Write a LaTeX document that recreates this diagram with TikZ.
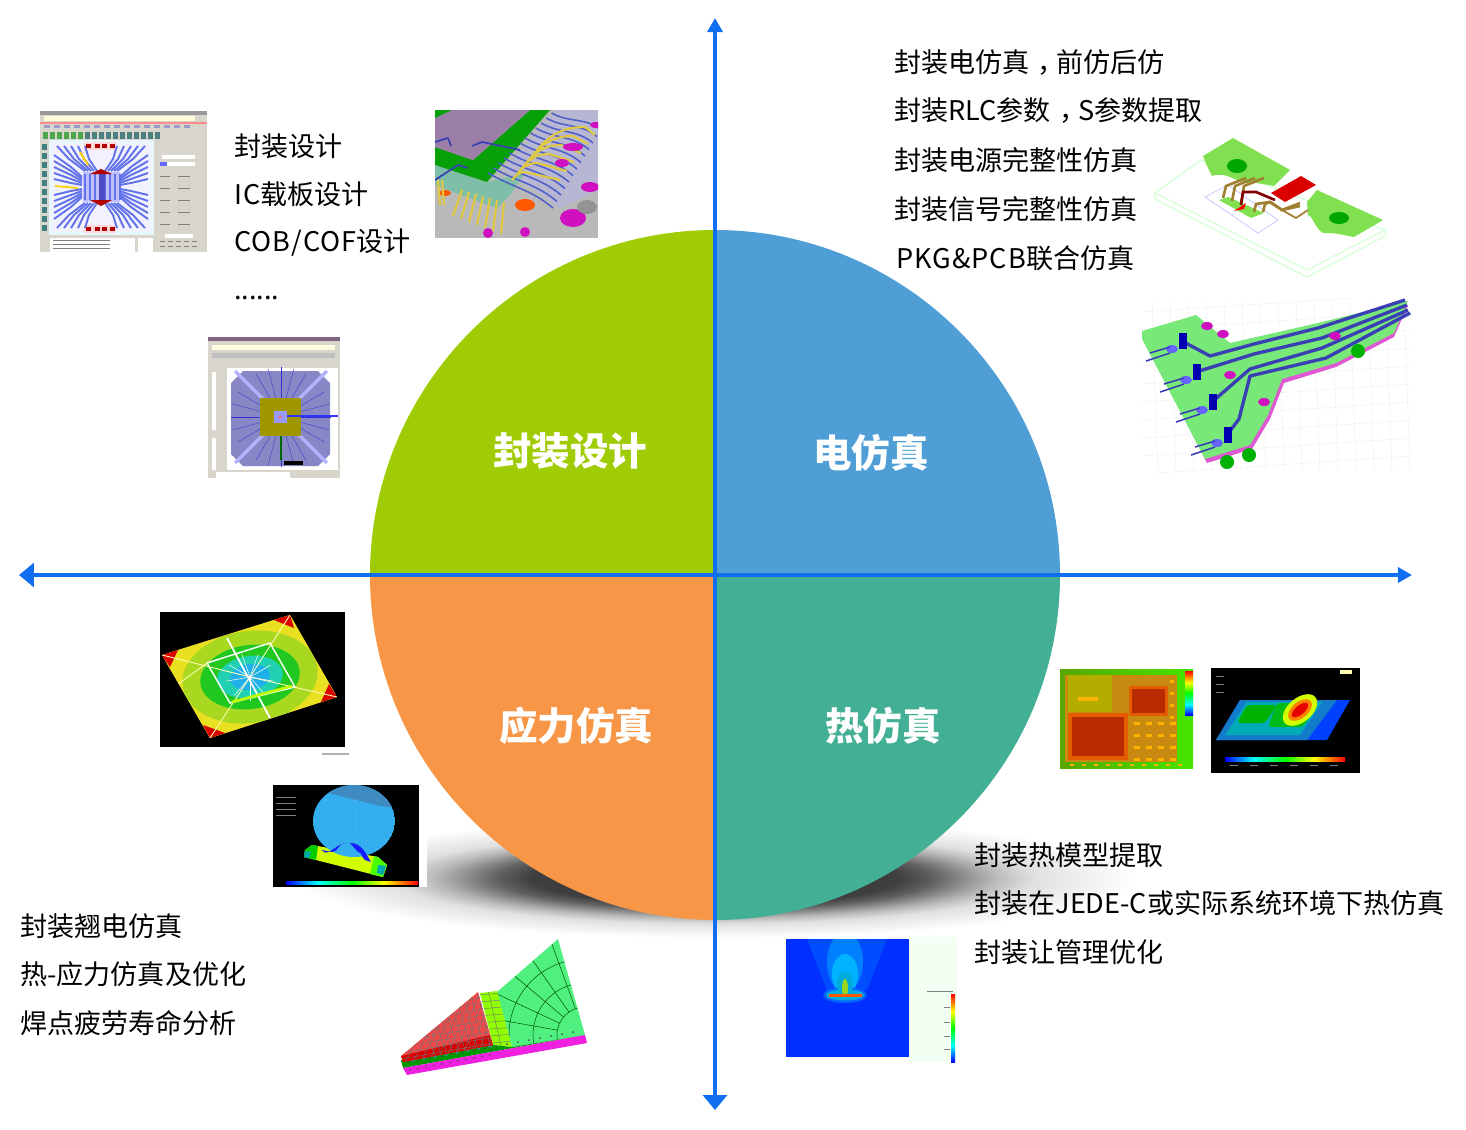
\documentclass[tikz,border=0pt]{standalone}
\usepackage{fontspec}
\setmainfont{Noto Sans CJK SC}
\newfontfamily\widelatin{Noto Sans CJK SC}[LetterSpace=4]
\usetikzlibrary{arrows.meta}

\definecolor{designgreen}{HTML}{A0CC05}
\definecolor{elecblue}{HTML}{4F9FD6}
\definecolor{stressorange}{HTML}{F79646}
\definecolor{heatteal}{HTML}{43AF94}
\definecolor{axisblue}{HTML}{0F6FF0}
\definecolor{wingray}{HTML}{D8D5CC}
\definecolor{tracelilac}{HTML}{6272E8}
\definecolor{wireblue}{HTML}{3A40B4}
\definecolor{padpink}{HTML}{D010C0}
\definecolor{platelime}{HTML}{80E050}
\definecolor{boardgreen}{HTML}{78E878}
\definecolor{wirebrown}{HTML}{A08030}
\definecolor{meshgreen}{HTML}{50F080}
\definecolor{meshred}{HTML}{F04848}
\definecolor{meshpink}{HTML}{F020E0}
\definecolor{bondpurple}{HTML}{9B7FA8}
\definecolor{bondgreen}{HTML}{08A008}
\definecolor{bondteal}{HTML}{7FBFA8}
\definecolor{bondwire}{HTML}{5060C8}
\definecolor{bondyellow}{HTML}{E0C840}
\definecolor{ballblue}{HTML}{33AFEF}
\definecolor{hotred}{HTML}{B82A00}
\definecolor{hotorange}{HTML}{C88A10}
\definecolor{plumeblue}{HTML}{0030FF}
\definecolor{ringorange}{HTML}{D89030}
\definecolor{ringyellow}{HTML}{E8E020}
\definecolor{ringlime}{HTML}{A8D820}
\definecolor{ringgreen}{HTML}{20C820}
\definecolor{ringteal}{HTML}{20D0B0}
\definecolor{ringcyan}{HTML}{20B0E8}

\pgfdeclarehorizontalshading{rainbowh}{100bp}{color(0bp)=(blue); color(25bp)=(blue); color(37bp)=(cyan); color(50bp)=(green); color(62bp)=(yellow); color(75bp)=(red); color(100bp)=(red)}
\pgfdeclareverticalshading{rainbowv}{100bp}{color(0bp)=(blue); color(25bp)=(blue); color(37bp)=(cyan); color(50bp)=(green); color(62bp)=(yellow); color(75bp)=(red); color(100bp)=(red)}
\pgfdeclareradialshading{bowlshadow}{\pgfpointorigin}{gray(0bp)=(0.15); gray(11bp)=(0.25); gray(13bp)=(0.38); gray(16bp)=(0.67); gray(17bp)=(0.75); gray(19bp)=(0.88); gray(23bp)=(0.96); gray(25bp)=(1); gray(50bp)=(1)}

\tikzset{
  bigtip/.tip={Triangle[width=13.5pt,length=8.5pt]},
  smalltip/.tip={Triangle[width=8.5pt,length=8pt]},
  axisline/.style={axisblue, line width=2.3pt},
  itemtext/.style={anchor=west, inner sep=0pt, font=\fontsize{15.4pt}{18pt}\selectfont},
  quadtitle/.style={white, inner sep=0pt, font=\fontsize{21.9pt}{26pt}\selectfont\bfseries},
  trace/.style={tracelilac, line width=1.1pt, line join=round},
  wire/.style={wireblue, line width=1.9pt, line join=round},
  bondline/.style={bondwire, line width=0.9pt},
  bondlead/.style={bondyellow, line width=1.2pt},
  meshline/.style={black!55, line width=0.25pt},
  gaugeline/.style={gray, line width=0.3pt},
}

\begin{document}
\begin{tikzpicture}[x=0.02cm,y=-0.02cm]
    \useasboundingbox (0,0) rectangle (1466,1129);
    \coordinate (c) at (715,575);
    \coordinate (top) at (715,18);
    \coordinate (bottom) at (715,1110);
    \coordinate (left) at (19,575);
    \coordinate (right) at (1412,575);

    % shadow under the disc
    \shade[shading=bowlshadow] (715,878) ellipse (420 and 60);

    % the four quadrants
    \fill[designgreen] (c) -- (370,575) arc (180:270:345) -- cycle;
    \fill[elecblue] (c) -- (715,230) arc (270:360:345) -- cycle;
    \fill[heatteal] (c) -- (1060,575) arc (0:90:345) -- cycle;
    \fill[stressorange] (c) -- (715,920) arc (90:180:345) -- cycle;

    \draw[axisline, bigtip-smalltip] (left) -- (right);
    \draw[axisline, smalltip-bigtip] (top) -- (bottom);

    \node[quadtitle] (qdesign) at (570,451) {封装设计};
    \node[quadtitle] (qelec) at (871,453) {电仿真};
    \node[quadtitle] (qstress) at (576,726) {应力仿真};
    \node[quadtitle] (qheat) at (883,726) {热仿真};

    \node[itemtext] (d1) at (234,146) {封装设计};
    \node[itemtext] (d2) at (234,194) {{\widelatin IC}载板设计};
    \node[itemtext] (d3) at (234,243) {{\widelatin COB/COF}设计};
    \node[itemtext] (d4) at (234,298) {......};

    \node[itemtext] (e1) at (894,63) {封装电仿真\hspace*{.3em}，\hspace*{-.3em}前仿后仿};
    \node[itemtext] (e2) at (894,111) {封装RLC参数\hspace*{.3em}，\hspace*{-.3em}S参数提取};
    \node[itemtext] (e3) at (894,160) {封装电源完整性仿真};
    \node[itemtext] (e4) at (894,209) {封装信号完整性仿真};
    \node[itemtext] (e5) at (896,258) {{\widelatin PKG\&PCB}联合仿真};

    \node[itemtext] (s1) at (20,926) {封装翘电仿真};
    \node[itemtext] (s2) at (20,974) {热-应力仿真及优化};
    \node[itemtext] (s3) at (20,1023) {焊点疲劳寿命分析};

    \node[itemtext] (h1) at (974,855) {封装热模型提取};
    \node[itemtext] (h2) at (974,903) {封装在JEDE-C或实际系统环境下热仿真};
    \node[itemtext] (h3) at (974,952) {封装让管理优化};

    % layout window, upper left
    \begin{scope}
      \clip (40,111) rectangle (207,252);
      \fill[wingray] (40,111) rectangle (207,252);
      \fill[gray!80] (40,111) rectangle (207,115);
      \fill[yellow!15] (44,116) rectangle (195,121);
      \fill[red!45] (40,122) rectangle (207,124);
      \foreach \i in {0,...,14} \fill[blue!30!gray!60] (44+\i*10,125) rectangle +(6,3);
      \foreach \i in {0,...,5} \fill[green!50!black!70] (43+\i*7,132) rectangle +(5,7);
      \foreach \i in {6,...,16} \fill[gray!60!teal] (43+\i*7,132) rectangle +(5,7);
      \foreach \i in {0,...,9} \fill[teal!50!gray] (42,144+\i*9) rectangle +(5,6);
      \fill[cyan!10] (49,140) rectangle (154,235);
      \fill[blue!5] (52,143) rectangle (151,232);
      \fill[red!15] (84,142) rectangle (116,150);
      \fill[red!15] (84,225) rectangle (116,233);
      \begin{scope}
        \clip (52,143) rectangle (151,232);
        \foreach \sx in {-1,1} \foreach \sy in {-1,1} \foreach \i in {0,...,4} {
          \draw[trace] ({101+\sx*(4+\i*3)},{187+\sy*16}) -- ({101+\sx*(12+\i*5)},{187+\sy*28}) -- ({101+\sx*(16+\i*7)},{187+\sy*41});
          \draw[trace] ({101+\sx*19},{187+\sy*(2+\i*2)}) -- ({101+\sx*30},{187+\sy*(4+\i*4)}) -- ({101+\sx*47},{187+\sy*(8+\i*6)});
        }
      \end{scope}
      \fill[blue!25] (83,172) rectangle (120,202);
      \foreach \i in {0,...,7} \draw[trace, line width=.6pt] (85+\i*5,174) -- +(0,26);
      \fill[blue!70!black!70] (99,173) rectangle (105,201);
      \fill[red!70!black] (90,174) -- (101,169) -- (112,174) -- cycle;
      \fill[red!70!black] (90,200) -- (101,206) -- (112,200) -- cycle;
      \foreach \i in {88,97,104,112} {
        \fill[red!70!black] (\i-2,144) rectangle +(5,4);
        \fill[red!70!black] (\i-2,227) rectangle +(5,4);
      }
      \draw[yellow!70!orange, line width=1.2pt] (80,152) -- (88,165);
      \draw[yellow!70!orange, line width=1pt] (55,186) -- (78,188);
      \fill[white] (50,238) rectangle (135,252);
      \fill[white] (138,238) rectangle (153,252);
      \foreach \y in {240,244,248} \draw[gaugeline] (53,\y) -- (110,\y);
      \foreach \y in {155,162} \fill[white] (162,\y) rectangle +(33,4);
      \fill[blue!60] (160,162) rectangle +(7,4);
      \foreach \y in {176,188,200,212,224} {
        \draw[gaugeline] (160,\y) -- +(10,0);
        \draw[gaugeline] (178,\y) -- +(12,0);
      }
      \fill[white] (165,234) rectangle +(28,4);
      \foreach \y in {241,246} \foreach \i in {0,...,4} \draw[gaugeline] (160+\i*8,\y) -- +(5,0);
    \end{scope}

    % wire bond view
    \begin{scope}
      \clip (435,110) rectangle (598,238);
      \fill[gray!55] (435,110) rectangle (598,238);
      \fill[blue!25!gray!45] (556,110) -- (598,110) -- (598,190) -- (560,208) -- (505,170) -- cycle;
      \fill[bondteal] (435,165) -- (487,182) -- (525,173) -- (510,195) -- (497,208) -- (435,185) -- cycle;
      \fill[bondgreen] (530,110) -- (550,110) -- (487,182) -- (435,165) -- (435,147) -- (473,160) -- cycle;
      \fill[bondpurple] (435,118) -- (452,110) -- (530,110) -- (473,160) -- (435,147) -- cycle;
      \fill[bondgreen] (435,110) -- (452,110) -- (435,118) -- cycle;
      \fill[orange!70!red] (525,205) ellipse (10 and 6);
      \fill[orange!70!red] (445,193) ellipse (6 and 3);
      \foreach \i in {0,...,12} \draw[bondline] (488+\i*5.3,173-\i*5) to[out=-30, in=140] (553+\i*4,208-\i*6.5);
      \foreach \i in {0,...,6} \draw[bondlead] (462+\i*7,190+\i*2) -- (453+\i*8,216+\i*3);
      \foreach \i in {0,...,5} \draw[bondlead] (512+\i*5,180-\i*6) to[out=50, in=180] (525+\i*12,172-\i*9) -- (560+\i*7,180-\i*9);
      \foreach \i in {0,1} \draw[bondlead] (438+\i*4,180) -- (440+\i*4,205);
      \fill[padpink] (573,218) ellipse (13 and 9);
      \fill[padpink] (488,233) circle (5);
      \fill[padpink] (525,232) circle (5);
      \fill[padpink] (590,187) ellipse (9 and 5);
      \fill[padpink] (573,147) ellipse (10 and 4);
      \fill[padpink] (562,163) ellipse (7 and 4);
      \fill[padpink] (596,125) ellipse (6 and 3);
      \fill[gray!85] (587,207) ellipse (10 and 7);
      \draw[wire, line width=1pt] (435,142) -- (448,138) -- (451,146);
      \draw[wire, line width=1pt] (472,146) -- (482,142) -- (520,150);
      \draw[wire, line width=1pt] (435,180) -- (458,165) -- (468,168);
    \end{scope}

    % layout window, radial package
    \begin{scope}
      \clip (208,337) rectangle (340,478);
      \fill[wingray] (208,337) rectangle (340,478);
      \fill[gray!80!violet] (208,337) rectangle (340,341);
      \fill[yellow!12] (212,345) rectangle (335,350);
      \fill[black!25] (212,353) rectangle (335,358);
      \fill[white] (227,368) rectangle (338,470);
      \fill[white] (212,372) rectangle (216,430);
      \fill[white] (212,438) rectangle (216,470);
      \fill[blue!35!gray!70] (243,371) -- (318,371) -- (330,383) -- (330,454) -- (318,466) -- (243,466) -- (231,454) -- (231,383) -- cycle;
      \foreach \a in {0,15,...,345} \draw[blue!60!gray, line width=0.2pt] (281,417) -- +(\a:50);
      \foreach \a in {45,135,225,315} \draw[white!70!blue, line width=2pt] (281,417) -- +(\a:65);
      \fill[olive!85!yellow] (260,398) rectangle (301,436);
      \fill[blue!40] (274,411) rectangle (287,423);
      \fill[red!60] (280,417) circle (1.5);
      \draw[blue!80, line width=0.6pt] (287,416) -- (338,416);
      \draw[green!40!black, line width=0.6pt] (281,436) -- (281,460);
      \fill[black] (284,461) rectangle (303,465);
      \fill[white] (216,472) rectangle (290,478);
    \end{scope}

    % power plane model
    \draw[green!15, line width=0.8pt] (1155,193) -- (1201,160) -- (1385,230) -- (1307,270) -- cycle;
    \draw[green!15, line width=0.8pt] (1155,193) -- (1155,199) -- (1307,277) -- (1385,236) -- (1385,230);
    \draw[blue!20, line width=0.5pt] (1205,197) -- (1228,185) -- (1278,220) -- (1258,233) -- cycle;
    \fill[platelime] (1203,156) -- (1233,138) -- (1290,170) -- (1274,186) to[out=170, in=0] (1251,183) to[out=180, in=20] (1212,176) -- (1207,166) -- cycle;
    \fill[platelime] (1317,190) -- (1383,220) -- (1354,237) to[out=170, in=0] (1326,233) to[out=200, in=80] (1308,217) -- (1307,202) -- cycle;
    \fill[green!65!black] (1237,166) ellipse (10 and 7);
    \fill[green!65!black] (1339,218) ellipse (10 and 6);
    \fill[platelime] (1219,200) -- (1228,197) -- (1264,213) -- (1251,218) -- cycle;
    \fill[red!85!black] (1271,193) -- (1301,176) -- (1316,185) -- (1285,202) -- cycle;
    \fill[red] (1234,211) -- (1246,203) -- (1244,209) -- cycle;
    \foreach \i in {0,1,2} \draw[wirebrown, line width=1.5pt] (1223+\i*9,198+\i*3) -- (1226+\i*9,186) -- (1246+\i*9,178);
    \draw[red!50!black, line width=1.5pt] (1241,205) -- (1243,192) -- (1256,192) -- (1275,200);
    \foreach \i in {0,1} \draw[wirebrown, line width=1.5pt] (1254+\i*9,212) -- (1256+\i*9,204) -- (1270,202) -- (1282,210) -- (1300,206-\i*3);
    \draw[wirebrown, line width=1pt] (1282,210) -- (1296,218) -- (1308,210);

    % package to board model
    \begin{scope}
      \clip (1142,298) rectangle (1412,472);
      \foreach \x in {1152,1170,...,1412} \draw[gray!12, line width=0.3pt] (\x,300) -- (\x+6,472);
      \foreach \y in {304,322,...,472} \draw[gray!12, line width=0.3pt] (1142,\y+8) -- (1412,\y-10);
      \fill[padpink!70] (1142,335) -- (1196,319) -- (1230,347) -- (1318,327) -- (1408,305) -- (1394,337) -- (1336,367) -- (1284,383) -- (1270,419) -- (1252,449) -- (1207,463) -- cycle;
      \fill[boardgreen] (1142,331) -- (1196,315) -- (1230,343) -- (1318,323) -- (1408,301) -- (1394,333) -- (1336,363) -- (1282,379) -- (1268,415) -- (1250,445) -- (1205,459) -- (1142,339) -- cycle;
      \draw[wire] (1182,341) -- (1210,356) -- (1254,344) -- (1318,328) -- (1405,300);
      \draw[wire] (1196,372) -- (1254,354) -- (1322,338) -- (1407,305);
      \draw[wire] (1212,402) -- (1250,369) -- (1322,348) -- (1408,310);
      \draw[wire] (1227,435) -- (1239,419) -- (1250,376) -- (1326,358) -- (1410,313);
      \foreach \x/\y in {1182/341,1196/372,1212/402,1227/435} {
        \fill[blue!70!black] (\x-3,\y-8) rectangle (\x+5,\y+8);
        \fill[blue!60] (\x-10,\y+8) ellipse (6 and 4);
        \draw[wire, line width=0.9pt] (\x-12,\y+12) -- (\x-36,\y+20);
        \draw[wire, line width=0.9pt] (\x-12,\y+6) -- (\x-32,\y+12);
      }
      \foreach \x/\y in {1207/326,1223/334,1335/336,1230/375,1264/402} \fill[padpink] (\x,\y) ellipse (6 and 4);
      \foreach \x/\y in {1227/462,1249/455,1358/351} \fill[green!70!black] (\x,\y) circle (7);
    \end{scope}

    % warpage contour
    \fill[black] (160,612) rectangle (345,747);
    \begin{scope}
      \clip (162,655) -- (290,615) -- (337,697) -- (210,738) -- cycle;
      \fill[ringorange] (160,612) rectangle (345,747);
      \fill[ringyellow, rotate around={8:(250,677)}] (250,677) ellipse (92 and 64);
      \fill[ringlime, rotate around={8:(250,677)}] (250,677) ellipse (68 and 46);
      \fill[ringgreen, rotate around={8:(250,677)}] (250,677) ellipse (50 and 32);
      \fill[ringteal, rotate around={8:(250,677)}] (250,677) ellipse (33 and 21);
      \fill[ringcyan, rotate around={8:(250,677)}] (250,677) ellipse (20 and 13);
      \fill[red!85!black] (162,655) -- (178,650) -- (170,667) -- cycle;
      \fill[red!85!black] (290,615) -- (274,620) -- (294,628) -- cycle;
      \fill[red!85!black] (337,697) -- (321,702) -- (329,684) -- cycle;
      \fill[red!85!black] (210,738) -- (203,725) -- (225,733) -- cycle;
      \draw[white, line width=0.8pt] (207,663) -- (270,643) -- (295,687) -- (230,703) -- cycle;
      \foreach \x/\y in {162/655,290/615,337/697,210/738} \draw[white!70!yellow, line width=0.5pt] (250,677) -- (\x,\y);
      \foreach \a in {10,50,...,350} \draw[white, line width=0.3pt] (250,677) -- +(\a:24);
      \draw[white, line width=1pt] (227,638) -- (270,718);
      \draw[white!70!yellow, line width=0.5pt] (207,663) -- (170,690);
      \draw[lime, line width=1.5pt] (232,702) -- (292,686);
    \end{scope}
    \draw[gray!60, line width=0.9pt] (322,754) -- (349,754);

    % solder ball
    \fill[white] (419,785) rectangle (427,887);
    \fill[black] (273,785) rectangle (419,887);
    \fill[lime!70!yellow] (312,845) -- (378,857) -- (387,865) -- (383,877) -- (304,857) -- (305,850) -- cycle;
    \fill[green!80!black] (312,845) -- (318,846) -- (316,860) -- (304,857) -- (305,850) -- cycle;
    \fill[cyan!60!green] (305,851) -- (311,852) -- (309,858) -- (304,857) -- cycle;
    \fill[green!70!yellow] (374,856) -- (378,857) -- (387,865) -- (383,877) -- (370,874) -- cycle;
    \fill[cyan!60!green] (378,865) -- (386,866) -- (383,875) -- (377,873) -- cycle;
    \begin{scope}
      \clip (354,821) ellipse (41 and 36);
      \fill[ballblue] (354,821) ellipse (41 and 36);
      \fill[blue!30!gray!70!cyan] (328,793) -- (345,785) -- (395,785) -- (395,808) -- (380,806) -- cycle;
      \foreach \x in {316,326,...,390} \foreach \y in {800,810,...,850} \fill[white, opacity=.2] (\x+\y-800,\y) circle (0.8);
    \end{scope}
    \fill[blue!90] (322,850) to[out=-60, in=190] (345,843) to[out=180, in=0] (332,852) -- cycle;
    \fill[blue!90] (350,843) to[out=0, in=120] (371,862) -- (365,860) to[out=150, in=0] (358,852) -- cycle;
    \shade[shading=rainbowh] (286,881) rectangle (418,884);
    \foreach \y in {797,803,809,815} \draw[gaugeline] (276,\y) -- (296,\y);

    % fe mesh
    \begin{scope}
      \clip (497,992) -- (558,939) -- (585,1035) -- (512,1047) -- cycle;
      \fill[meshgreen] (480,935) rectangle (590,1050);
      \foreach \r in {28,52,76,100} \draw[green!35!black, line width=0.3pt] (585,1035) circle (\r);
      \foreach \a in {190,205,...,285} \draw[green!35!black, line width=0.3pt] (585,1035) +(\a:28) -- +(\a:120);
    \end{scope}
    \begin{scope}
      \clip (480,993) -- (497,991) -- (512,1047) -- (493,1045) -- cycle;
      \fill[lime!75!green] (475,985) rectangle (515,1050);
      \foreach \i in {0,...,8} \draw[meshline] (478,995+\i*7) -- (515,992+\i*7);
      \draw[meshline] (488,990) -- (502,1050);
    \end{scope}
    \fill[green!60!black] (401,1060) -- (493,1045) -- (512,1047) -- (585,1035) -- (403,1068) -- cycle;
    \foreach \i in {0,...,15} \fill[black!70] (408+\i*11,1062-\i*2) circle (1);
    \foreach \i in {0,...,7} \fill[cyan!60!black] (413+\i*11,1060.5-\i*2) circle (1.6);
    \begin{scope}
      \clip (478,992) -- (493,1045) -- (403,1062) -- (401,1056) -- cycle;
      \fill[meshred] (395,985) rectangle (500,1065);
      \fill[red!85!black] (401,1056) -- (490,1035) -- (493,1045) -- (403,1062) -- cycle;
      \foreach \i in {0,...,13} {
        \draw[meshline] (395+\i*8,1066) -- (440+\i*6,985);
        \draw[meshline] (395,1000+\i*6) -- (500,982+\i*6);
        \draw[meshline] (405+\i*8,985) -- (440+\i*6,1066);
      }
    \end{scope}
    \begin{scope}
      \clip (585,1035) -- (587,1043) -- (407,1075) -- (403,1068) -- cycle;
      \fill[meshpink] (400,1030) rectangle (590,1080);
      \foreach \i in {0,...,10} \fill[black!70] (410+\i*8,1070-\i*1.5) circle (0.8);
    \end{scope}

    % board temperature map
    \shade[left color=olive!70!green, right color=green!60!lime!90!black] (1060,669) rectangle (1193,768);
    \fill[hotorange] (1065,675) rectangle (1177,762);
    \fill[olive!65!yellow] (1068,675) rectangle (1112,712);
    \fill[orange!80!red!90!black] (1068,713) rectangle (1128,760);
    \fill[orange!80!red!90!black] (1129,686) rectangle (1168,716);
    \fill[hotred] (1072,717) rectangle (1124,756);
    \fill[hotred] (1132,689) rectangle (1165,713);
    \foreach \x in {1134,1146,...,1170} \foreach \y in {722,734,...,758} \fill[orange!60!yellow] (\x,\y) rectangle +(6,3);
    \foreach \x in {1070,1082,...,1180} \fill[orange!60!yellow] (\x,764) rectangle +(4,2);
    \foreach \y in {680,692,...,716} \fill[orange!60!yellow] (1170,\y) rectangle +(4,3);
    \fill[orange!60!yellow] (1078,697) rectangle (1098,701);
    \shade[shading=rainbowv] (1185,671) rectangle (1193,715);

    % package temperature map
    \fill[black] (1211,668) rectangle (1360,773);
    \fill[blue!75!cyan] (1240,700) -- (1350,700) -- (1327,740) -- (1216,740) -- cycle;
    \fill[cyan!60!blue] (1240,700) -- (1337,700) -- (1307,740) -- (1216,740) -- cycle;
    \fill[cyan!65!green] (1247,702) -- (1322,702) -- (1300,735) -- (1225,735) -- cycle;
    \fill[green!70!black, rounded corners=2pt] (1247,705) -- (1277,705) -- (1265,723) -- (1237,723) -- cycle;
    \fill[green!70!black!90!cyan, rounded corners=2pt] (1277,703) -- (1318,703) -- (1303,727) -- (1268,727) -- cycle;
    \fill[lime!70!yellow, rotate around={40:(1300,710)}] (1300,710) ellipse (20 and 12);
    \fill[orange, rotate around={40:(1300,710)}] (1300,710) ellipse (14 and 8);
    \fill[red!90!black, rotate around={40:(1300,710)}] (1300,710) ellipse (10 and 4.5);
    \shade[shading=rainbowh] (1225,757) rectangle (1345,761);
    \foreach \x in {1230,1250,...,1340} \draw[gaugeline] (\x,765) -- +(8,0);
    \foreach \y in {676,684,692} \draw[gaugeline] (1216,\y) -- +(8,0);
    \fill[white!70!yellow] (1340,670) rectangle (1352,674);

    % plume
    \fill[green!5] (909,937) rectangle (957,1062);
    \begin{scope}
      \clip (786,939) rectangle (909,1057);
      \fill[plumeblue] (786,939) rectangle (909,1057);
      \fill[blue!70!cyan] (807,939) -- (887,939) -- (867,990) -- (827,990) -- cycle;
      \fill[blue!50!cyan] (845,962) ellipse (18 and 30);
      \fill[blue!30!cyan] (845,974) ellipse (13 and 20);
      \fill[blue!60!cyan] (845,995) ellipse (22 and 8);
      \fill[cyan!90!green] (845,995) ellipse (19 and 5.5);
      \fill[cyan!85!green] (845,984) ellipse (8 and 12);
      \fill[yellow!60!green] (845,988) ellipse (3 and 9);
      \fill[orange!70!red] (829,994) rectangle (862,997);
    \end{scope}
    \shade[shading=rainbowv] (951,994) rectangle (955,1062);
    \foreach \y in {1007,1022,1036,1049} \draw[gaugeline] (944,\y) -- +(6,0);
    \draw[gaugeline] (927,991) -- +(26,0);
\end{tikzpicture}
\end{document}
